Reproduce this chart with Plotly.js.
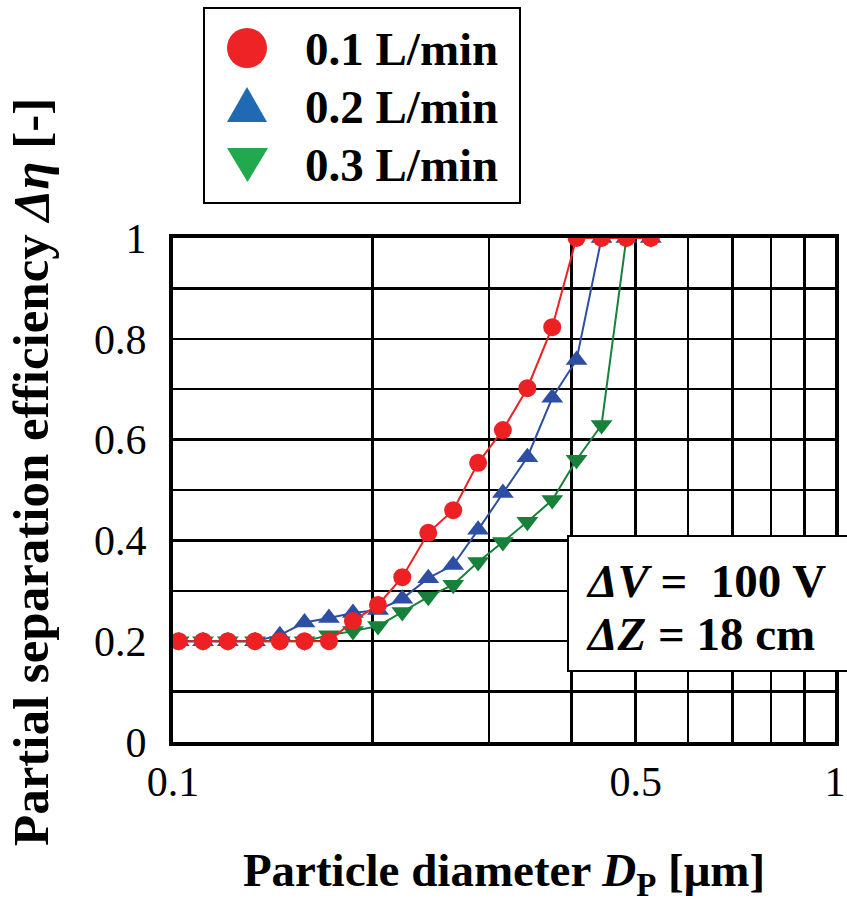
<!DOCTYPE html>
<html>
<head>
<meta charset="utf-8">
<script src="https://cdn.plot.ly/plotly-3.0.1.min.js"></script>
<style>html,body{margin:0;padding:0;background:#fff;}#chart{width:847px;height:903px;}</style>
</head>
<body>
<div id="chart"></div>
<script>
// ---- data ----
const diameter = [0.102, 0.111, 0.121, 0.133, 0.145, 0.158, 0.172, 0.187, 0.204, 0.222,
                  0.243, 0.265, 0.289, 0.315, 0.343, 0.374, 0.407, 0.444, 0.484, 0.527];
const eff_01 = [0.200, 0.200, 0.200, 0.200, 0.200, 0.200, 0.200, 0.240, 0.272, 0.327,
                0.415, 0.460, 0.554, 0.619, 0.702, 0.823, 1.000, 1.000, 1.000, 1.000];
const eff_02 = [0.200, 0.200, 0.200, 0.200, 0.212, 0.237, 0.246, 0.256, 0.262, 0.284,
                0.325, 0.351, 0.421, 0.494, 0.565, 0.683, 0.758, 1.000, 1.000, 1.000];
const eff_03 = [0.200, 0.200, 0.200, 0.200, 0.200, 0.200, 0.212, 0.220, 0.230, 0.258,
                0.288, 0.312, 0.357, 0.397, 0.437, 0.480, 0.560, 0.629, 1.000, 1.000];
const seriesNames = ['0.1 L/min', '0.2 L/min', '0.3 L/min'];
const xTickVals = [0.1, 0.5, 1];
const xTickText = ['0.1', '0.5', '1'];
const xGridVals = [0.2, 0.3, 0.4, 0.6, 0.7, 0.8, 0.9];
const yTickVals = [0, 0.2, 0.4, 0.6, 0.8, 1];
const yTickText = ['0', '0.2', '0.4', '0.6', '0.8', '1'];
const conditionLines = ['<i>ΔV</i> =  100 V', '<i>ΔZ</i> = 18 cm'];
const xTitle = '<b>Particle diameter <i>D</i><sub>P</sub> [μm]</b>';
const yTitle = '<b>Partial separation efficiency <i>Δη</i> [-]</b>';

// ---- layout helpers (pixel -> paper) ----
const L = 173, R = 835, T = 238, B = 742;
const px = v => (v - L) / (R - L);
const py = v => (B - v) / (B - T);

const serif = 'Liberation Serif, Times New Roman, serif';
const plotColors = ['#ED2024', '#2D4EA2', '#17803A'];
const legendColors = ['#EE2326', '#1F6AB3', '#22A84D'];

const ys = [eff_01, eff_02, eff_03];
const symbols = ['circle', 'triangle-up', 'triangle-down'];
const sizes = [18, 19, 19];
const traces = ys.map((y, i) => ({
  x: diameter, y: y, name: seriesNames[i], type: 'scatter', mode: 'lines+markers',
  line: {color: plotColors[i], width: 2},
  marker: {symbol: symbols[i], size: sizes[i], color: plotColors[i]},
  showlegend: false
}));
// draw order: green, blue, red on top
const data = [traces[2], traces[1], traces[0]];

const shapes = [
  // legend box
  {type: 'rect', xref: 'paper', yref: 'paper', x0: px(204), x1: px(520), y0: py(203), y1: py(8),
   line: {color: '#000', width: 2}, fillcolor: '#fff', layer: 'above'},
  // legend symbols
  {type: 'circle', xref: 'paper', yref: 'paper', x0: px(227), x1: px(267), y0: py(68), y1: py(28),
   line: {width: 0}, fillcolor: legendColors[0], layer: 'above'},
  {type: 'path', xref: 'paper', yref: 'paper',
   path: `M ${px(227)} ${py(122)} L ${px(267)} ${py(122)} L ${px(247)} ${py(87)} Z`,
   line: {width: 0}, fillcolor: legendColors[1], layer: 'above'},
  {type: 'path', xref: 'paper', yref: 'paper',
   path: `M ${px(227)} ${py(148)} L ${px(268)} ${py(148)} L ${px(247.5)} ${py(182)} Z`,
   line: {width: 0}, fillcolor: legendColors[2], layer: 'above'},
  // condition box
  {type: 'rect', xref: 'paper', yref: 'paper', x0: px(568), x1: px(860), y0: py(671), y1: py(536),
   line: {color: '#000', width: 2}, fillcolor: '#fff', layer: 'above'}
];

const bigFont = {family: serif, size: 47, color: '#000'};
const annotations = [];
[49, 107, 165].forEach((cy, i) => {
  annotations.push({xref: 'paper', yref: 'paper', x: px(303), y: py(cy), xanchor: 'left', yanchor: 'middle',
    text: '<b>' + seriesNames[i] + '</b>', showarrow: false, font: bigFont});
});
[581, 634].forEach((cy, i) => {
  annotations.push({xref: 'paper', yref: 'paper', x: px(584), y: py(cy), xanchor: 'left', yanchor: 'middle',
    text: '<b>' + conditionLines[i] + '</b>', showarrow: false, font: bigFont});
});
// y-axis title (placed to match the reference position)
annotations.push({xref: 'paper', yref: 'paper', x: px(31), y: py(472), xanchor: 'center', yanchor: 'middle',
  textangle: -90, text: yTitle, showarrow: false, font: {family: serif, size: 51, color: '#000'}});

const layout = {
  width: 847, height: 903,
  margin: {l: L, r: 847 - R, t: T, b: 903 - B},
  paper_bgcolor: '#fff', plot_bgcolor: '#fff',
  font: {family: serif, color: '#000'},
  xaxis: {
    type: 'log', range: [-1, 0],
    tickmode: 'array', tickvals: xTickVals, ticktext: xTickText,
    minor: {tickmode: 'array', tickvals: xGridVals, showgrid: true, gridcolor: '#000', gridwidth: 2.5, ticks: ''},
    showgrid: true, gridcolor: '#000', gridwidth: 2.5,
    showline: true, linecolor: '#000', linewidth: 4, mirror: true,
    ticks: '', ticklabelstandoff: 0,
    tickfont: {family: serif, size: 42, color: '#000'},
    zeroline: false,
    title: {text: xTitle, font: {family: serif, size: 47, color: '#000'}, standoff: 52}
  },
  yaxis: {
    range: [0, 1],
    tickmode: 'array', tickvals: yTickVals, ticktext: yTickText,
    minor: {dtick: 0.1, showgrid: true, gridcolor: '#000', gridwidth: 2.5, ticks: ''},
    showgrid: true, gridcolor: '#000', gridwidth: 2.5,
    showline: true, linecolor: '#000', linewidth: 4, mirror: true,
    ticks: '', ticklabelstandoff: 14,
    tickfont: {family: serif, size: 42, color: '#000'},
    zeroline: false
  },
  shapes: shapes,
  annotations: annotations,
  showlegend: false
};

Plotly.newPlot('chart', data, layout, {displayModeBar: false, staticPlot: true});
</script>
</body>
</html>
